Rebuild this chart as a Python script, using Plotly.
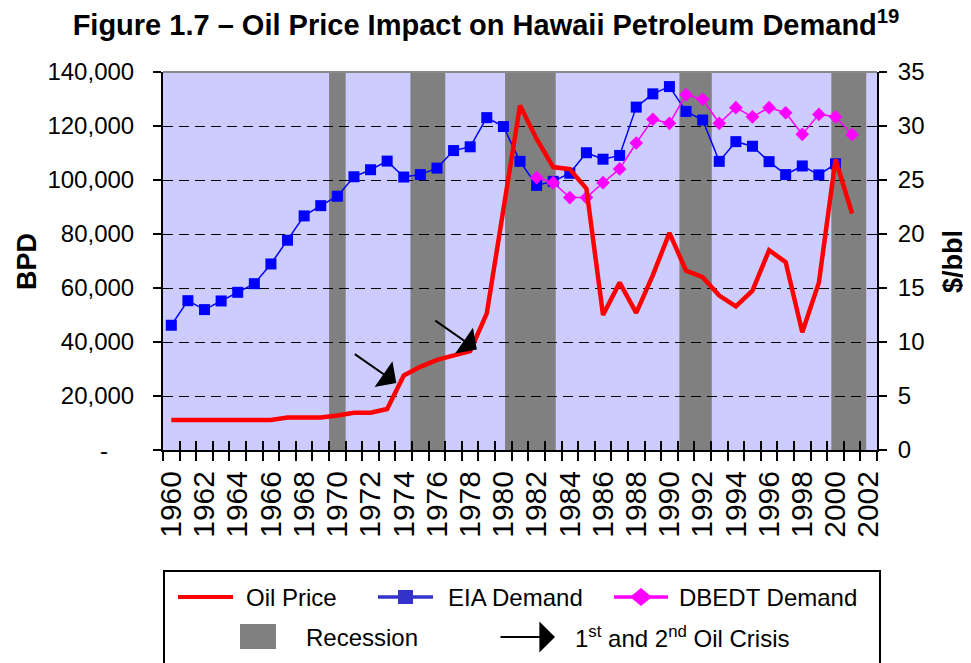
import plotly.graph_objects as go

# ---------------- data ----------------
years = list(range(1960, 2003))
label_years = list(range(1960, 2003, 2))

oil_price = [2.78, 2.78, 2.78, 2.78, 2.78, 2.78, 2.78, 3.0, 3.05, 3.0,
             3.2, 3.45, 3.45, 3.8, 6.9, 7.7, 8.35, 8.8, 9.15, 12.65,
             22.0, 31.9, 28.8, 26.2, 26.0, 24.2, 12.5, 15.5, 12.7, 16.2,
             20.1, 16.6, 16.0, 14.3, 13.3, 14.75, 18.5, 17.4, 10.9, 15.5,
             26.9, 21.9, None]

eia_demand = [46200, 55300, 52000, 55200, 58400, 61600, 68900, 77700, 86700, 90500,
              94000, 101200, 103800, 107000, 101100, 102000, 104400, 110900, 112300, 123100,
              119800, 106900, 98000, 99500, 102500, 110100, 107700, 109100, 127000, 131900,
              134600, 125400, 122200, 106900, 114200, 112500, 106800, 102000, 105200, 101900,
              106000, None, None]

dbedt_demand = [None, None, None, None, None, None, None, None, None, None,
                None, None, None, None, None, None, None, None, None, None,
                None, None, 100900, 99000, 93500, 93500, 99000, 104100, 113700, 122500,
                121000, 131600, 129900, 121000, 126800, 123400, 126800, 124900, 116900, 124300,
                123400, 116800, None]

recession_start = [1969.5, 1974.4, 1980.1, 1990.6, 1999.75]
recession_end = [1970.5, 1976.5, 1983.15, 1992.55, 2001.85]

crisis_year = [1973.55, 1978.4]
crisis_price = [6.2, 9.3]

left_ticks = [0, 20000, 40000, 60000, 80000, 100000, 120000, 140000]
left_ticktext = ["", "20,000", "40,000", "60,000", "80,000",
                 "100,000", "120,000", "140,000"]
zero_label = "-"
right_ticks = [0, 5, 10, 15, 20, 25, 30, 35]

# ---------------- layout helpers ----------------
OFF = 8                      # page body margin of the html file
W, H = 971 - OFF, 663 - OFF
L, T = 163 - OFF, 72 - OFF
PW, PH = 714, 378
R, B = W - L - PW, H - T - PH
FONT = "Liberation Sans, Arial, sans-serif"


def px(xp):
    return (xp - OFF - L) / PW


def py(yp):
    return (T + PH - (yp - OFF)) / PH


boundaries = [y - 0.5 for y in years] + [years[-1] + 0.5]

fig = go.Figure()

fig.add_trace(go.Scatter(
    x=years, y=eia_demand, name="EIA Demand", mode="lines+markers",
    line=dict(color="#0000FF", width=1.5),
    marker=dict(symbol="square", size=11, color="#0000FF"),
    yaxis="y", showlegend=False))

fig.add_trace(go.Scatter(
    x=years, y=dbedt_demand, name="DBEDT Demand", mode="lines+markers",
    line=dict(color="#FF00FF", width=1.5),
    marker=dict(symbol="diamond", size=10.5, color="#FF00FF"),
    yaxis="y", showlegend=False))

fig.add_trace(go.Scatter(
    x=years, y=oil_price, name="Oil Price", mode="lines",
    line=dict(color="#FF0000", width=4.5),
    yaxis="y2", showlegend=False))

# dummy trace to host the crossing tick overlay axis
fig.add_trace(go.Scatter(x=[years[0]], y=[None], xaxis="x2", yaxis="y",
                         mode="lines", showlegend=False, hoverinfo="skip"))

for x0, x1 in zip(recession_start, recession_end):
    fig.add_vrect(x0=x0, x1=x1, fillcolor="#808080", opacity=1,
                  layer="below", line_width=0)

# top border
fig.add_shape(type="line", xref="paper", yref="paper", x0=0, x1=1, y0=1, y1=1,
              line=dict(color="#8a8a8a", width=2))

# oil crisis arrows
for cx, cy in zip(crisis_year, crisis_price):
    fig.add_annotation(x=cx, y=cy, xref="x", yref="y2", text="",
                       showarrow=True, arrowhead=1, arrowsize=2.6,
                       arrowwidth=2, arrowcolor="black", ax=-43, ay=-30)

# accounting-style zero label on the left axis
fig.add_annotation(x=px(104), y=py(450), xref="paper", yref="paper", text=zero_label,
                   showarrow=False, xanchor="center", yanchor="middle",
                   font=dict(family=FONT, size=24, color="black"))

# ---------------- custom legend ----------------
fig.add_shape(type="rect", xref="paper", yref="paper",
              x0=px(164), x1=px(880), y0=py(571), y1=py(720),
              line=dict(color="black", width=2), fillcolor="white", layer="above")

row1, row2 = 597, 637
fig.add_shape(type="line", xref="paper", yref="paper", x0=px(178), x1=px(233),
              y0=py(row1), y1=py(row1), line=dict(color="#FF0000", width=4))
fig.add_shape(type="line", xref="paper", yref="paper", x0=px(378), x1=px(433),
              y0=py(row1), y1=py(row1), line=dict(color="#3333CC", width=3.5))
fig.add_shape(type="rect", xref="paper", yref="paper", x0=px(398), x1=px(413),
              y0=py(row1 - 7), y1=py(row1 + 7), line=dict(width=0), fillcolor="#3333CC")
fig.add_shape(type="line", xref="paper", yref="paper", x0=px(614), x1=px(668),
              y0=py(row1), y1=py(row1), line=dict(color="#FF00FF", width=3.5))
fig.add_shape(type="path", xref="paper", yref="paper",
              path="M {a},{b} L {c},{d} L {e},{f} L {g},{h} Z".format(
                  a=px(630), b=py(row1), c=px(641), d=py(row1 - 9),
                  e=px(652), f=py(row1), g=px(641), h=py(row1 + 9)),
              line=dict(width=0), fillcolor="#FF00FF")
fig.add_shape(type="rect", xref="paper", yref="paper", x0=px(240), x1=px(276),
              y0=py(row2 - 13), y1=py(row2 + 12), line=dict(width=0), fillcolor="#808080")
fig.add_annotation(x=px(555), y=py(row2), xref="paper", yref="paper", text="",
                   showarrow=True, arrowhead=1, arrowsize=2.6, arrowwidth=2,
                   arrowcolor="black", ax=-56, ay=0)

legend_texts = [
    ("Oil Price", 244, row1),
    ("EIA Demand", 446, row1),
    ("DBEDT Demand", 677, row1),
    ("Recession", 304, row2),
    ("1<sup>st</sup> and 2<sup>nd</sup> Oil Crisis", 573, row2),
]
for txt, xx, yy in legend_texts:
    fig.add_annotation(x=px(xx), y=py(yy), xref="paper", yref="paper", text=txt,
                       showarrow=False, xanchor="left", yanchor="middle",
                       font=dict(family=FONT, size=24, color="black"))

# axis titles
fig.add_annotation(x=px(27), y=py(262), xref="paper", yref="paper", text="<b>BPD</b>",
                   showarrow=False, textangle=-90, xanchor="center", yanchor="middle",
                   font=dict(family=FONT, size=27, color="black"))
fig.add_annotation(x=px(953), y=py(262), xref="paper", yref="paper", text="<b>$/bbl</b>",
                   showarrow=False, textangle=-90, xanchor="center", yanchor="middle",
                   font=dict(family=FONT, size=27, color="black"))

fig.update_layout(
    width=W, height=H,
    margin=dict(l=L, r=R, t=T, b=B, autoexpand=False),
    paper_bgcolor="white", plot_bgcolor="#CCCCFF",
    font=dict(family=FONT, size=24, color="black"),
    showlegend=False,
    title=dict(text="<b>Figure 1.7 – Oil Price Impact on Hawaii Petroleum Demand<sup>19</sup></b>",
               x=(486 - OFF) / W, xref="container", xanchor="center",
               y=1 - (25 - OFF) / H, yref="container", yanchor="middle",
               font=dict(family=FONT, size=29, color="black")),
    xaxis=dict(range=[1959.5, 2002.5], tickmode="array", tickvals=label_years,
               ticktext=[str(y) for y in label_years], ticks="", tickangle=-90,
               showline=True, linecolor="black", linewidth=2, showgrid=False,
               zeroline=False, tickfont=dict(family=FONT, size=30),
               ticklabelstandoff=7,
               minor=dict(tickmode="array", tickvals=boundaries, ticks="outside",
                          ticklen=9, tickcolor="black", tickwidth=1.5, showgrid=False)),
    xaxis2=dict(range=[1959.5, 2002.5], overlaying="x", anchor="y", side="bottom",
                tickmode="array", tickvals=boundaries, ticks="inside", ticklen=9,
                tickcolor="black", tickwidth=1.5, showticklabels=False,
                showline=False, showgrid=False, zeroline=False),
    yaxis=dict(range=[0, 140000], tickmode="array", tickvals=left_ticks,
               ticktext=left_ticktext, ticks="outside", ticklen=8, tickwidth=1.5,
               tickcolor="black", showline=True, linecolor="black", linewidth=2,
               showgrid=True, gridcolor="black", gridwidth=1, griddash="10px,6px",
               zeroline=False, tickfont=dict(family=FONT, size=24),
               ticklabelstandoff=14),
    yaxis2=dict(range=[0, 35], overlaying="y", side="right", tickmode="array",
                tickvals=right_ticks, ticks="outside", ticklen=8, tickwidth=1.5,
                tickcolor="black", showline=True, linecolor="black", linewidth=2,
                showgrid=False, zeroline=False, tickfont=dict(family=FONT, size=24),
                ticklabelstandoff=6),
)

fig.write_html("out.html")
